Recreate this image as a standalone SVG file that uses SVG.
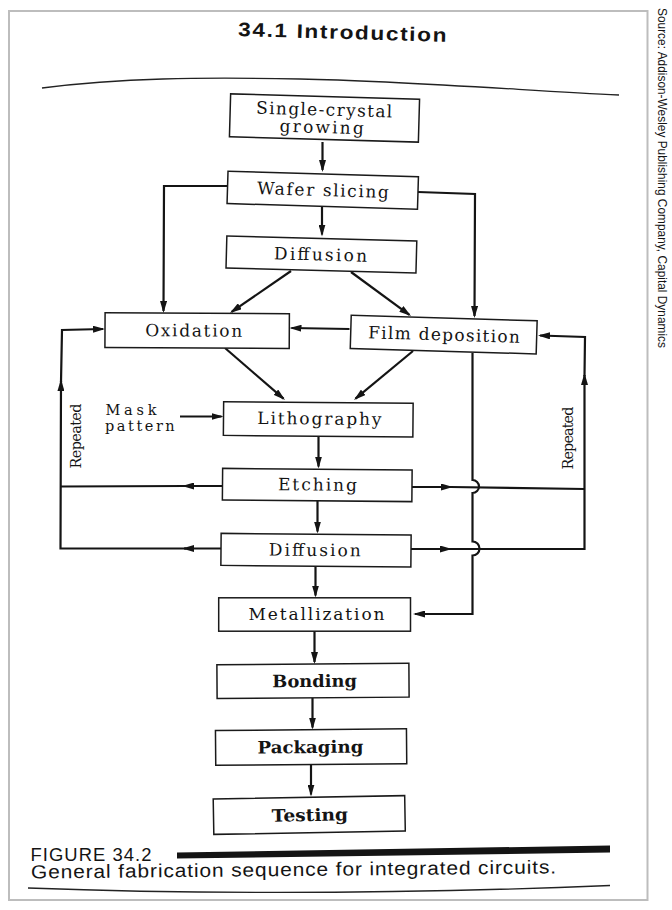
<svg xmlns="http://www.w3.org/2000/svg" width="672" height="910" viewBox="0 0 672 910">
<defs>
<style>
.box{fill:#fff;stroke:#1a1a1a;stroke-width:1.5}
.lbl{font-family:"DejaVu Serif","Liberation Serif",serif;font-size:17px;fill:#141414;text-anchor:middle}
.bold{font-weight:bold}
.sm{font-family:"DejaVu Serif","Liberation Serif",serif;font-size:14.5px;fill:#141414}
.ln{fill:none;stroke:#141414;stroke-width:2.2;stroke-linejoin:miter}
.ar{marker-end:url(#ah)}
.sans{font-family:"Liberation Sans",Arial,sans-serif;fill:#141414}
</style>
<marker id="ah" viewBox="0 0 12 7" refX="10" refY="3.5" markerWidth="12" markerHeight="7" orient="auto" markerUnits="userSpaceOnUse">
<path d="M0,0 L12,3.5 L0,7 Z" fill="#141414"/>
</marker>
</defs>
<rect x="0" y="0" width="672" height="910" fill="#fff"/>
<rect x="9" y="11" width="638.5" height="889" fill="none" stroke="#bdbdbd" stroke-width="2"/>
<text class="sans" x="658" y="0" font-size="12" fill="#333" textLength="340" lengthAdjust="spacingAndGlyphs" transform="translate(0,8) rotate(90 658 0)">Source: Addison-Wesley Publishing Company, Capital Dynamics</text>

<g id="header">
<text class="sans" x="238" y="36" font-size="19.5" font-weight="bold" letter-spacing="1.4" textLength="210" lengthAdjust="spacingAndGlyphs" transform="rotate(1.6 238 36)">34.1  Introduction</text>
<path d="M42,88 C120,78 200,77 300,79 S520,90 619,95" fill="none" stroke="#222" stroke-width="1.3"/>
</g>

<g id="connectors">
<path class="ln ar" d="M322.5,142 L322.5,170"/>
<path class="ln ar" d="M322,207 L322,234.5"/>
<path class="ln ar" d="M227.5,186 L164,186 L163.5,311"/>
<path class="ln ar" d="M418,192 L475,194 L474.5,316"/>
<path class="ln ar" d="M291,271 L231.6,311.9"/>
<path class="ln ar" d="M351,272 L409.4,314.8"/>
<path class="ln ar" d="M349.5,329 L291.5,328"/>
<path class="ln ar" d="M225,348 L283.5,398.7"/>
<path class="ln ar" d="M413,351 L355.5,398.7"/>
<path class="ln ar" d="M180,416.5 L221.5,416.5"/>
<path class="ln ar" d="M318.5,437 L318.5,466.5"/>
<path class="ln ar" d="M317.5,501 L317.5,531.5"/>
<path class="ln ar" d="M315.5,566.5 L315.5,595.5"/>
<path class="ln ar" d="M314.5,631 L314.5,662"/>
<path class="ln ar" d="M312.5,698 L312.5,727.5"/>
<path class="ln ar" d="M311,764.5 L311,794.5"/>
<path class="ln ar" d="M222.5,486 L184,486"/>
<path class="ln" d="M186,486 L61,486.5"/>
<path class="ln ar" d="M221,548.5 L184,548.5"/>
<path class="ln ar" d="M186,548.5 L60.5,548.5 L61,381"/>
<path class="ln ar" d="M61,382 L62,330 L103,329"/>
<path class="ln ar" d="M412,487 L451,487"/>
<path class="ln" d="M451,487 L584.5,489"/>
<path class="ln ar" d="M411,549 L450,549"/>
<path class="ln ar" d="M450,549 L584.5,549 L584.5,375"/>
<path class="ln ar" d="M584.5,376 L585,337 L540,335.5"/>
<path class="ln ar" d="M472.5,353 L472.5,480 A6.5,6.5 0 0 1 472.5,493 L472.5,541.5 A7,7 0 0 1 472.5,555.5 L472.5,614 L415,614"/>
</g>

<g id="n-single" transform="rotate(1.6 324.5 118)">
<rect class="box" x="230" y="96.5" width="189" height="43"/>
<text class="lbl" x="324" y="115.5" textLength="136" lengthAdjust="spacing">Single-crystal</text>
<text class="lbl" x="322" y="133" textLength="84" lengthAdjust="spacing">growing</text>
</g>
<g id="n-wafer" transform="rotate(1.7 322.7 190)">
<rect class="box" x="227.5" y="174" width="190.5" height="32.4"/>
<text class="lbl" x="323" y="196" textLength="131.6" lengthAdjust="spacing">Wafer slicing</text>
</g>
<g id="n-diff1" transform="rotate(1.5 321.4 254.5)">
<rect class="box" x="226.4" y="238.5" width="190" height="32"/>
<text class="lbl" x="320.5" y="260.5" textLength="93" lengthAdjust="spacing">Diffusion</text>
</g>
<g id="n-oxid" transform="rotate(0.3 197.2 330.7)">
<rect class="box" x="105" y="313.3" width="184.3" height="34.7"/>
<text class="lbl" x="193.7" y="336.5" textLength="97" lengthAdjust="spacing">Oxidation</text>
</g>
<g id="n-film" transform="rotate(1.7 443.7 334.6)">
<rect class="box" x="350.7" y="318" width="186" height="33.2"/>
<text class="lbl" x="444" y="340.5" textLength="151.7" lengthAdjust="spacing">Film deposition</text>
</g>
<g id="n-mask">
<text class="sm"><tspan x="105.5" y="414.5" textLength="51" lengthAdjust="spacing">Mask</tspan><tspan x="105" y="430.5" textLength="69.7" lengthAdjust="spacing">pattern</tspan></text>
</g>
<g id="n-litho" transform="rotate(0.5 318.2 419.3)">
<rect class="box" x="223.5" y="402.5" width="189.5" height="33.7"/>
<text class="lbl" x="319.4" y="424.5" textLength="124" lengthAdjust="spacing">Lithography</text>
</g>
<g id="n-etch" transform="rotate(0.5 317.2 485)">
<rect class="box" x="222.5" y="469.2" width="189.5" height="31.6"/>
<text class="lbl" x="317.5" y="490.5" textLength="79" lengthAdjust="spacing">Etching</text>
</g>
<g id="n-diff2" transform="rotate(0.5 316 550.2)">
<rect class="box" x="221" y="534.2" width="190" height="32"/>
<text class="lbl" x="314.8" y="556" textLength="91.8" lengthAdjust="spacing">Diffusion</text>
</g>
<g id="n-metal">
<rect class="box" x="218.7" y="597.8" width="191.8" height="33.4"/>
<text class="lbl" x="316.5" y="620" textLength="136" lengthAdjust="spacing">Metallization</text>
</g>
<g id="n-bond" transform="rotate(-0.4 313 681)">
<rect class="box" x="217" y="664" width="192" height="33.8"/>
<text class="lbl bold" x="314.6" y="687" textLength="84.6" lengthAdjust="spacingAndGlyphs">Bonding</text>
</g>
<g id="n-pack" transform="rotate(-0.5 311 747.1)">
<rect class="box" x="215.6" y="729.7" width="191" height="34.8"/>
<text class="lbl bold" x="310.4" y="753" textLength="106" lengthAdjust="spacingAndGlyphs">Packaging</text>
</g>
<g id="n-test" transform="rotate(-1 309.3 815)">
<rect class="box" x="213.5" y="797.3" width="191.5" height="35.4"/>
<text class="lbl bold" x="309.8" y="821" textLength="76.5" lengthAdjust="spacingAndGlyphs">Testing</text>
</g>
<g id="n-rep-left">
<text class="sm" x="0" y="0" textLength="65" lengthAdjust="spacing" text-anchor="middle" transform="translate(80.5,436) rotate(-90)">Repeated</text>
</g>
<g id="n-rep-right">
<text class="sm" x="0" y="0" textLength="63" lengthAdjust="spacing" text-anchor="middle" transform="translate(572.5,438) rotate(-90)">Repeated</text>
</g>

<g id="caption">
<text class="sans" x="30.5" y="860.5" font-size="17.5" letter-spacing="1" textLength="122" lengthAdjust="spacingAndGlyphs">FIGURE 34.2</text>
<polygon points="177,852.5 610,845.5 610,852.5 177,858.5" fill="#141414"/>
<text class="sans" x="31" y="878.5" font-size="19" letter-spacing="0.8" textLength="526" lengthAdjust="spacingAndGlyphs" transform="rotate(-0.55 31 878.5)">General fabrication sequence for integrated circuits.</text>
<path d="M28,888 Q300,898 610,885.5" fill="none" stroke="#222" stroke-width="1.3"/>
</g>
</svg>
